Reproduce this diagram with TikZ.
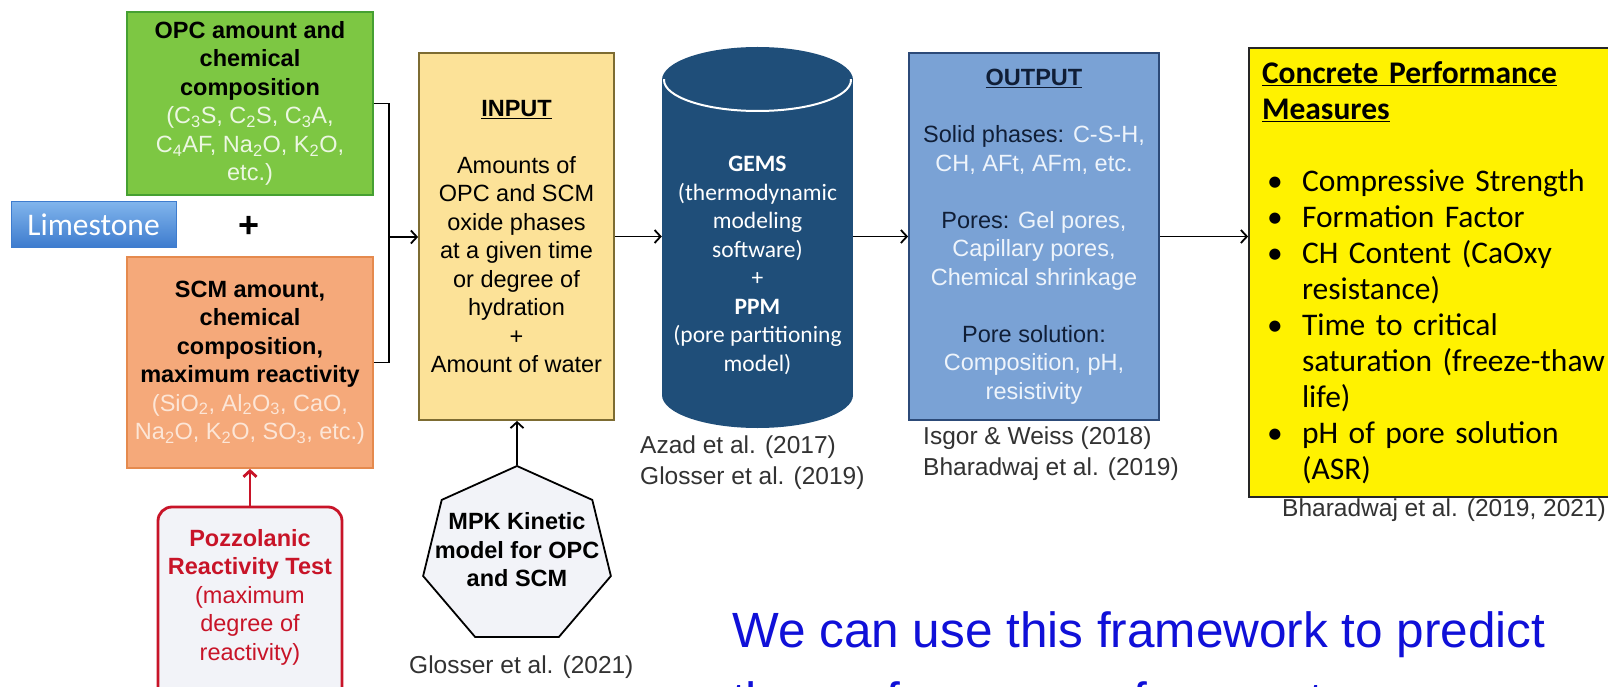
\documentclass[tikz,border=0pt]{standalone}
\usepackage{fontspec}
\setmainfont{Liberation Sans}
\newfontfamily\calibri{Carlito}
\usepackage{tikz}
\usetikzlibrary{shapes.geometric,arrows.meta}

\definecolor{opcgreen}{RGB}{125,199,67}
\definecolor{opcedge}{RGB}{70,160,50}
\definecolor{opclight}{RGB}{236,247,226}
\definecolor{scmorange}{RGB}{245,169,122}
\definecolor{scmedge}{RGB}{229,138,78}
\definecolor{scmlight}{RGB}{252,230,215}
\definecolor{limetop}{RGB}{128,180,236}
\definecolor{limebot}{RGB}{62,124,206}
\definecolor{pozzred}{RGB}{200,20,40}
\definecolor{pozzfill}{RGB}{242,243,248}
\definecolor{inputfill}{RGB}{252,226,152}
\definecolor{inputedge}{RGB}{125,108,50}
\definecolor{gemsblue}{RGB}{31,78,121}
\definecolor{outfill}{RGB}{122,162,213}
\definecolor{outedge}{RGB}{44,74,120}
\definecolor{outdark}{RGB}{16,30,54}
\definecolor{outlight}{RGB}{238,244,251}
\definecolor{refgray}{RGB}{50,50,50}
\definecolor{noteblue}{RGB}{16,16,216}

\newcommand{\pbullet}{\hspace*{5pt}\makebox[35pt][l]{\textbullet}}
\newcommand{\pcont}{\hspace*{40pt}}

\begin{document}
\begin{tikzpicture}[x=1pt, y=-1pt,
  inbox/.style={line width=1.8pt, align=center, inner sep=0pt, font=\fontsize{23.5}{28.5}\selectfont},
  conn/.style={line width=1.8pt, -{Straight Barb[length=6pt,width=13pt]}},
  refnote/.style={anchor=west, align=left, inner sep=0pt, text=refgray, font=\fontsize{24.5}{31}\selectfont}]
\useasboundingbox (0,0) rectangle (1608,687);
\fill[white] (0,0) rectangle (1608,687);
\clip (0,0) rectangle (1608,687);

\node[inbox, fill=opcgreen, draw=opcedge, minimum width=246, minimum height=183] (opc) at (250,103.5) {\textbf{OPC amount and}\\ \textbf{chemical}\\ \textbf{composition}\\ \textcolor{opclight}{(C\textsubscript{3}S, C\textsubscript{2}S, C\textsubscript{3}A,}\\ \textcolor{opclight}{C\textsubscript{4}AF, Na\textsubscript{2}O, K\textsubscript{2}O,}\\ \textcolor{opclight}{etc.)}};
\node[inbox, fill=scmorange, draw=scmedge, minimum width=246, minimum height=211] (scm) at (250,362.5) {\textbf{SCM amount,}\\ \textbf{chemical}\\ \textbf{composition,}\\ \textbf{maximum reactivity}\\ \textcolor{scmlight}{(SiO\textsubscript{2}, Al\textsubscript{2}O\textsubscript{3}, CaO,}\\ \textcolor{scmlight}{Na\textsubscript{2}O, K\textsubscript{2}O, SO\textsubscript{3}, etc.)}};
\node[draw=limebot, line width=1pt, top color=limetop, bottom color=limebot, text=white, inner sep=0pt, minimum width=165, minimum height=45, font=\calibri\fontsize{31.5}{36}\selectfont] (lime) at (93.5,224.5) {Limestone};
\node[font=\bfseries\fontsize{36}{36}\selectfont, inner sep=0pt] (plus) at (249,227) {+};

\node[draw=pozzred, line width=2.8pt, rounded corners=14pt, fill=pozzfill, minimum width=184, minimum height=220, inner sep=0pt] (pozz) at (250,617) {};
\node[text=pozzred, align=center, inner sep=0pt, font=\fontsize{23.5}{28.5}\selectfont] (pozztext) at (250,597) {\textbf{Pozzolanic}\\ \textbf{Reactivity Test}\\ (maximum\\ degree of\\ reactivity)};
\draw[conn, pozzred, line width=2.8pt] (pozz) -- (scm);

\node[inbox, fill=inputfill, draw=inputedge, minimum width=195, minimum height=367] (input) at (516.5,236.5) {\underline{\textbf{INPUT}}\\[28.5pt] Amounts of\\ OPC and SCM\\ oxide phases\\ at a given time\\ or degree of\\ hydration\\ +\\ Amount of water};

\coordinate (join) at (389,237);
\draw[line width=1.8pt] (opc.east) -- (opc.east -| join) -- (scm.east -| join) -- (scm.east);
\draw[conn] (join) -- (join -| input.west);

\fill[gemsblue] (662,80) rectangle (853,395);
\fill[gemsblue] (757.5,395) ellipse [x radius=95.5, y radius=33];
\fill[gemsblue] (757.5,80) ellipse [x radius=95.5, y radius=33];
\begin{scope}
\clip (650,80) rectangle (870,122);
\draw[white, line width=2pt] (757.5,80) ellipse [x radius=93.5, y radius=31];
\end{scope}
\node[text=white, align=center, inner sep=0pt, minimum width=191, font=\calibri\fontsize{23.5}{28.5}\selectfont] (gems) at (757.5,265.5) {\textbf{GEMS}\\ (thermodynamic\\ modeling\\ software)\\ +\\ \textbf{PPM}\\ (pore partitioning\\ model)};
\draw[conn] (input.east) -- (input.east -| gems.west);

\node[inbox, fill=outfill, draw=outedge, text=outdark, minimum width=250, minimum height=367] (output) at (1034,236.5) {\underline{\textbf{OUTPUT}}\\[28.5pt] Solid phases: \textcolor{outlight}{C-S-H,}\\ \textcolor{outlight}{CH, AFt, AFm, etc.}\\[28.5pt] Pores: \textcolor{outlight}{Gel pores,}\\ \textcolor{outlight}{Capillary pores,}\\ \textcolor{outlight}{Chemical shrinkage}\\[28.5pt] Pore solution:\\ \textcolor{outlight}{Composition, pH,}\\ \textcolor{outlight}{resistivity}};
\draw[conn] (gems.east |- output.west) -- (output.west);

\node[draw=black!85, line width=1.8pt, fill=yellow, minimum width=376, minimum height=449, text width=350, inner xsep=13pt, align=left, font=\calibri\fontsize{31.5}{36}\selectfont] (perf) at (1437,272.5) {\underline{\textbf{Concrete Performance}}\\ \underline{\textbf{Measures}}\\[36pt] \pbullet Compressive Strength\\ \pbullet Formation Factor\\ \pbullet CH Content (CaOxy\\ \pcont resistance)\\ \pbullet Time to critical\\ \pcont saturation (freeze-thaw\\ \pcont life)\\ \pbullet pH of pore solution\\ \pcont (ASR)};
\draw[conn] (output.east) -- (output.east -| perf.west);

\node[draw, line width=1.8pt, regular polygon, regular polygon sides=7, minimum size=180, xscale=1.07, transform shape, fill=pozzfill, inner sep=0pt] (mpk) at (517,556) {};
\node[align=center, inner sep=0pt, font=\bfseries\fontsize{23.5}{28.5}\selectfont] (mpktext) at (517,550) {MPK Kinetic\\ model for OPC\\ and SCM};
\draw[conn] (mpk.north) -- (mpk.north |- input.south);

\node[refnote] (azad) at (640,462.5) {Azad et al. (2017)\\ Glosser et al. (2019)};
\node[refnote] (isgor) at (923,453.5) {Isgor \& Weiss (2018)\\ Bharadwaj et al. (2019)};
\node[refnote] (bhar) at (1282,510) {Bharadwaj et al. (2019, 2021)};
\node[refnote] (glosser) at (409,667) {Glosser et al. (2021)};

\node[anchor=north west, align=left, inner sep=0pt, text=noteblue, font=\fontsize{49.5}{70}\selectfont] (note) at (732,611) {We can use this framework to predict\\ the performance of concrete};
\end{tikzpicture}
\end{document}
